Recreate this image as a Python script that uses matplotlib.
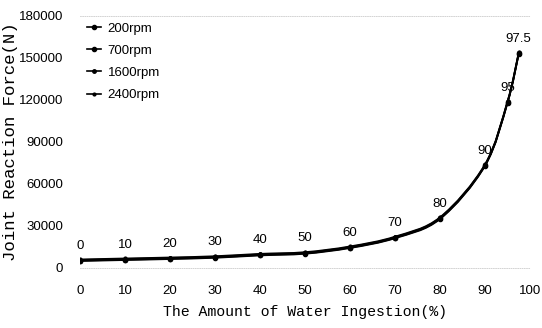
import matplotlib.pyplot as plt
from matplotlib.path import Path
from matplotlib.patches import PathPatch
from matplotlib.lines import Line2D

water = [0, 10, 20, 30, 40, 50, 60, 70, 80, 90, 95, 97.5]
rpm_labels = ['200rpm', '700rpm', '1600rpm', '2400rpm']
force_200 = [5000, 5700, 6400, 7300, 9000, 10200, 14300, 21300, 35000, 73000, 118000, 153000]
force_700 = [5300, 6000, 6700, 7600, 9300, 10500, 14600, 21600, 35400, 73300, 118300, 153300]
force_1600 = [5700, 6400, 7100, 8000, 9700, 10900, 15000, 22000, 35800, 73600, 118600, 153600]
force_2400 = [6100, 6800, 7500, 8400, 10100, 11300, 15400, 22400, 36200, 74000, 119000, 154000]
point_labels = ['0', '10', '20', '30', '40', '50', '60', '70', '80', '90', '95', '97.5']


def smooth_path(xs, ys):
    # catmull-rom style bezier through the points (like a "smoothed line" chart)
    pts = list(zip(xs, ys))
    verts = [pts[0]]
    codes = [Path.MOVETO]
    n = len(pts)
    for i in range(n - 1):
        p0 = pts[max(i - 1, 0)]
        p1 = pts[i]
        p2 = pts[i + 1]
        p3 = pts[min(i + 2, n - 1)]
        c1 = (p1[0] + (p2[0] - p0[0]) / 6, p1[1] + (p2[1] - p0[1]) / 6)
        c2 = (p2[0] - (p3[0] - p1[0]) / 6, p2[1] - (p3[1] - p1[1]) / 6)
        verts += [c1, c2, p2]
        codes += [Path.CURVE4] * 3
    return Path(verts, codes)


fig = plt.figure(figsize=(5.42, 3.28), dpi=100)
ax = fig.add_axes([80 / 542, 60 / 328, 450 / 542, 252 / 328])

handles = []
for f, lab, ms in zip([force_200, force_700, force_1600, force_2400], rpm_labels, [3, 3, 2.5, 2]):
    ax.add_patch(PathPatch(smooth_path(water, f), fill=False, edgecolor='black', lw=1.3))
    ax.plot(water, f, color='black', ls='none', marker='o', ms=ms)
    handles.append(Line2D([], [], color='black', lw=1.2, marker='o', ms=ms, label=lab))

# point labels above the curve
for x, y, t in zip(water, force_1600, point_labels):
    ax.annotate(t, (x, y), xytext=(0, 6), textcoords='offset points',
                ha='center', va='bottom', fontsize=9.5, family='Liberation Sans')

ax.set_xlim(0, 100)
ax.set_ylim(0, 180000)
ax.set_xticks(range(0, 101, 10))
ax.set_yticks(range(0, 180001, 30000))
ax.tick_params(length=0, labelsize=9.5, pad=12)
for lbl in ax.get_xticklabels() + ax.get_yticklabels():
    lbl.set_family('Liberation Sans')

for s in ['left', 'right']:
    ax.spines[s].set_visible(False)
for s in ['top', 'bottom']:
    ax.spines[s].set_color('#cccccc')
    ax.spines[s].set_linestyle(':')
    ax.spines[s].set_linewidth(0.6)

ax.set_xlabel('The Amount of Water Ingestion(%)', family='Liberation Mono', fontsize=10.7, labelpad=6)
ax.set_ylabel('Joint Reaction Force(N)', family='Liberation Mono', fontsize=12.5, labelpad=1)

ax.legend(handles=handles, loc='upper left', frameon=False, handlelength=1.1, handletextpad=0.5,
          borderaxespad=0.2, borderpad=0.3, labelspacing=0.75,
          prop={'family': 'Liberation Sans', 'size': 9.5})

fig.savefig('out.png', dpi=100)
